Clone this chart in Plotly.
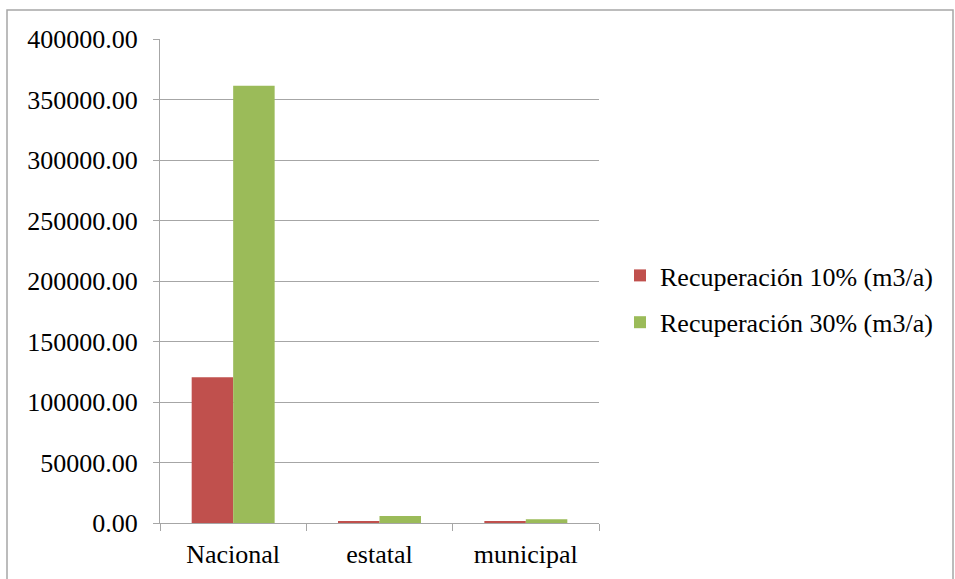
import plotly.graph_objects as go

categories = ["Nacional", "estatal", "municipal"]
rec10 = [120400, 1650, 1000]
rec30 = [361400, 5800, 3000]
series_names = ["Recuperación 10% (m3/a)", "Recuperación 30% (m3/a)"]
colors = ["#c0504d", "#9bbb59"]

W, H = 955, 579
L, R, T, B = 160, 356, 39, 56
pw, ph = W - L - R, H - T - B

fig = go.Figure()
for vals, name, col, grp in zip([rec10, rec30], series_names, colors, ["a", "b"]):
    fig.add_trace(go.Bar(x=categories, y=vals, name=name, marker=dict(color=col, line=dict(width=0)),
                         legendgroup=grp))

font = dict(family="'Times New Roman', 'Liberation Serif', 'DejaVu Serif', serif", size=26, color="#000000")
grid = "#a6a6a6"

fig.update_layout(
    width=W, height=H,
    margin=dict(l=L, r=R, t=T, b=B, autoexpand=False),
    paper_bgcolor="white", plot_bgcolor="white",
    font=font,
    barmode="group", bargap=0.433, bargroupgap=0,
    showlegend=True,
    legend=dict(x=(620 - L) / pw, y=(523 - 299) / ph, xanchor="left", yanchor="middle",
                font=font, tracegroupgap=10, bgcolor="rgba(0,0,0,0)"),
    xaxis=dict(showgrid=False, showline=True, linecolor=grid, linewidth=1,
               ticks="outside", ticklen=7, tickcolor=grid, tickson="boundaries",
               ticklabelstandoff=8, tickfont=font, automargin=False),
    yaxis=dict(range=[0, 400000], dtick=50000, tickformat=".2f", showgrid=True,
               gridcolor=grid, gridwidth=1, showline=True, linecolor=grid, linewidth=1,
               ticks="outside", ticklen=6, tickcolor=grid, zeroline=False,
               ticklabelstandoff=10, tickfont=font, automargin=False),
    shapes=[dict(type="rect", xref="paper", yref="paper",
                 x0=(7 - L) / pw, x1=(953 - L) / pw,
                 y0=(523 - 600) / ph, y1=(523 - 10) / ph,
                 line=dict(color="#a6a6a6", width=1.5), fillcolor="rgba(0,0,0,0)", layer="below")],
)

fig.write_html("out.html")
